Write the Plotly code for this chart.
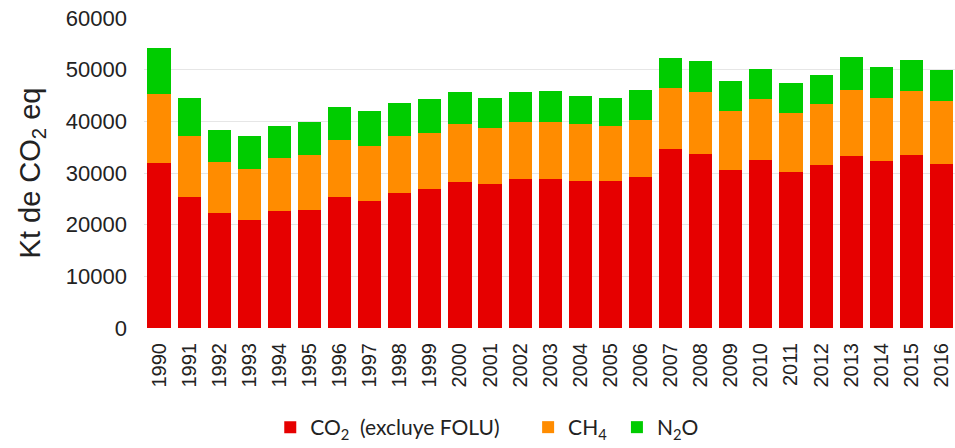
import plotly.graph_objects as go

years = [str(y) for y in range(1990, 2017)]

# valores (Kt CO2 eq)
co2 = [32000, 25400, 22200, 20900, 22700, 22900, 25400, 24600, 26200, 26900,
       28200, 27900, 28800, 28800, 28500, 28500, 29200, 34600, 33700, 30500,
       32600, 30100, 31500, 33300, 32400, 33400, 31700]
co2_ch4 = [45300, 37100, 32200, 30700, 33000, 33400, 36400, 35200, 37100, 37700,
           39400, 38800, 39800, 39800, 39500, 39100, 40300, 46400, 45700, 42000,
           44300, 41700, 43400, 46100, 44600, 45900, 44000]
total = [54100, 44600, 38400, 37200, 39100, 39800, 42800, 42000, 43600, 44400,
         45700, 44600, 45700, 45900, 45000, 44600, 46000, 52300, 51600, 47900,
         50100, 47500, 49000, 52400, 50600, 51800, 49900]

ch4 = [b - a for a, b in zip(co2, co2_ch4)]
n2o = [c - b for b, c in zip(co2_ch4, total)]

fig = go.Figure([
    go.Bar(x=years, y=co2, name="CO<sub>2</sub>  (excluye FOLU)", marker_color="#E60000"),
    go.Bar(x=years, y=ch4, name="CH<sub>4</sub>", marker_color="#FF8C00", legend="legend2"),
    go.Bar(x=years, y=n2o, name="N<sub>2</sub>O", marker_color="#00CC00", legend="legend3"),
])

leg = dict(orientation="h", yref="container", xref="container", y=0.0, yanchor="bottom",
           xanchor="left", font=dict(family="Lato, Liberation Sans", size=21, color="#222"),
           itemwidth=30, bgcolor="rgba(0,0,0,0)")

fig.update_traces(marker_line_width=0)
fig.update_layout(
    barmode="stack",
    bargap=0.23,
    width=955, height=448,
    margin=dict(l=144, r=0, t=18, b=120, autoexpand=False),
    plot_bgcolor="white", paper_bgcolor="white",
    font=dict(family="Liberation Sans, Arial", color="#222"),
    showlegend=True,
    legend=dict(leg, x=0.283),
    legend2=dict(leg, x=0.553),
    legend3=dict(leg, x=0.646),
)
fig.update_xaxes(tickangle=-90, tickfont=dict(size=20), ticklabelstandoff=10,
                 showline=False, range=[-0.5, 26.45], automargin=False)
fig.update_yaxes(range=[0, 60000], dtick=10000, tickformat="d", tickfont=dict(size=22),
                 showgrid=True, gridcolor="#E6E6E6", gridwidth=1,
                 zeroline=False, ticklabelstandoff=16, automargin=False,
                 title=dict(text="Kt de CO<sub>2</sub> eq", font=dict(size=29), standoff=16))

fig.write_html("out.html", config={"displayModeBar": False},
               post_script="document.body.style.margin='0';")
